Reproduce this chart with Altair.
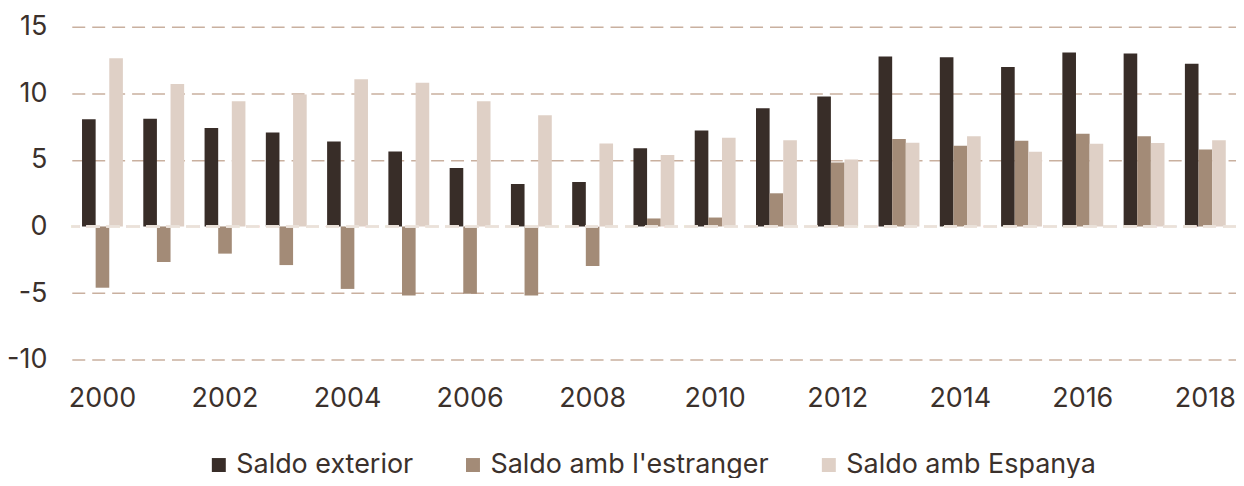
import altair as alt
import pandas as pd

years = [str(y) for y in range(2000, 2019)]
series = ["Saldo exterior", "Saldo amb l'estranger", "Saldo amb Espanya"]
saldo_exterior = [8.05, 8.08, 7.4, 7.05, 6.38, 5.63, 4.39, 3.19, 3.34, 5.88, 7.2, 8.88, 9.75, 12.77, 12.71, 11.97, 13.07, 12.99, 12.22]
saldo_estranger = [-4.6, -2.67, -2.04, -2.9, -4.69, -5.18, -5.06, -5.18, -2.97, 0.6, 0.67, 2.49, 4.81, 6.56, 6.06, 6.43, 6.96, 6.78, 5.78]
saldo_espanya = [12.64, 10.7, 9.4, 9.9, 11.05, 10.8, 9.4, 8.35, 6.23, 5.36, 6.66, 6.48, 5.03, 6.28, 6.78, 5.61, 6.21, 6.26, 6.48]
colors = ["#382d28", "#a38b77", "#dfd0c6"]
x_labels = [str(y) for y in range(2000, 2019, 2)]
y_ticks = [-10, -5, 0, 5, 10, 15]

rows = []
for s, vals in zip(series, [saldo_exterior, saldo_estranger, saldo_espanya]):
    for y, v in zip(years, vals):
        rows.append({"year": y, "series": s, "value": v})
df = pd.DataFrame(rows)

FONT = "Inter"
TXT = "#3b312c"
FS = 27

bars = alt.Chart(df).mark_bar().encode(
    x=alt.X("year:N", sort=years, title=None,
            scale=alt.Scale(paddingInner=0.333, paddingOuter=0.167),
            axis=alt.Axis(values=x_labels, labelAngle=0, domain=False, ticks=False,
                          labelPadding=26, labelFontSize=FS, labelFont=FONT,
                          labelColor=TXT, grid=False)),
    xOffset=alt.XOffset("series:N", sort=series,
                        scale=alt.Scale(paddingInner=0, paddingOuter=0)),
    y=alt.Y("value:Q", title=None,
            scale=alt.Scale(domain=[-10, 15], nice=False, zero=False),
            axis=alt.Axis(values=y_ticks, domain=False, ticks=False, labelPadding=25,
                          labelExpr="datum.value + ''",
                          labelFontSize=FS, labelFont=FONT, labelColor=TXT,
                          grid=True, gridDash=[13, 7], gridWidth=1.5,
                          gridColor={"condition": {"test": "datum.value === 0", "value": "rgba(0,0,0,0)"},
                                     "value": "#c9b09f"})),
    color=alt.Color("series:N", sort=series,
                    scale=alt.Scale(domain=series, range=colors),
                    legend=alt.Legend(orient="none", legendX=134, legendY=426,
                                      direction="horizontal", title=None,
                                      symbolType="square", symbolSize=196,
                                      symbolStrokeWidth=0, labelFontSize=FS,
                                      labelFont=FONT, labelColor=TXT, labelLimit=0,
                                      labelOffset=4, columnPadding=46, padding=0)),
)

zero = alt.Chart(df).mark_rule(color="#ebe1da", strokeDash=[13, 7], strokeWidth=1.5).encode(
    y=alt.datum(0)
)

chart = alt.layer(bars, zero).properties(
    width=1168, height=334,
    autosize=alt.AutoSizeParams(type="none"),
    padding={"left": 64, "top": 18, "right": 0, "bottom": 118},
).configure(font=FONT).configure_view(stroke="transparent", strokeWidth=0)

chart.save("out.html", embed_options={"renderer": "svg", "actions": False})
